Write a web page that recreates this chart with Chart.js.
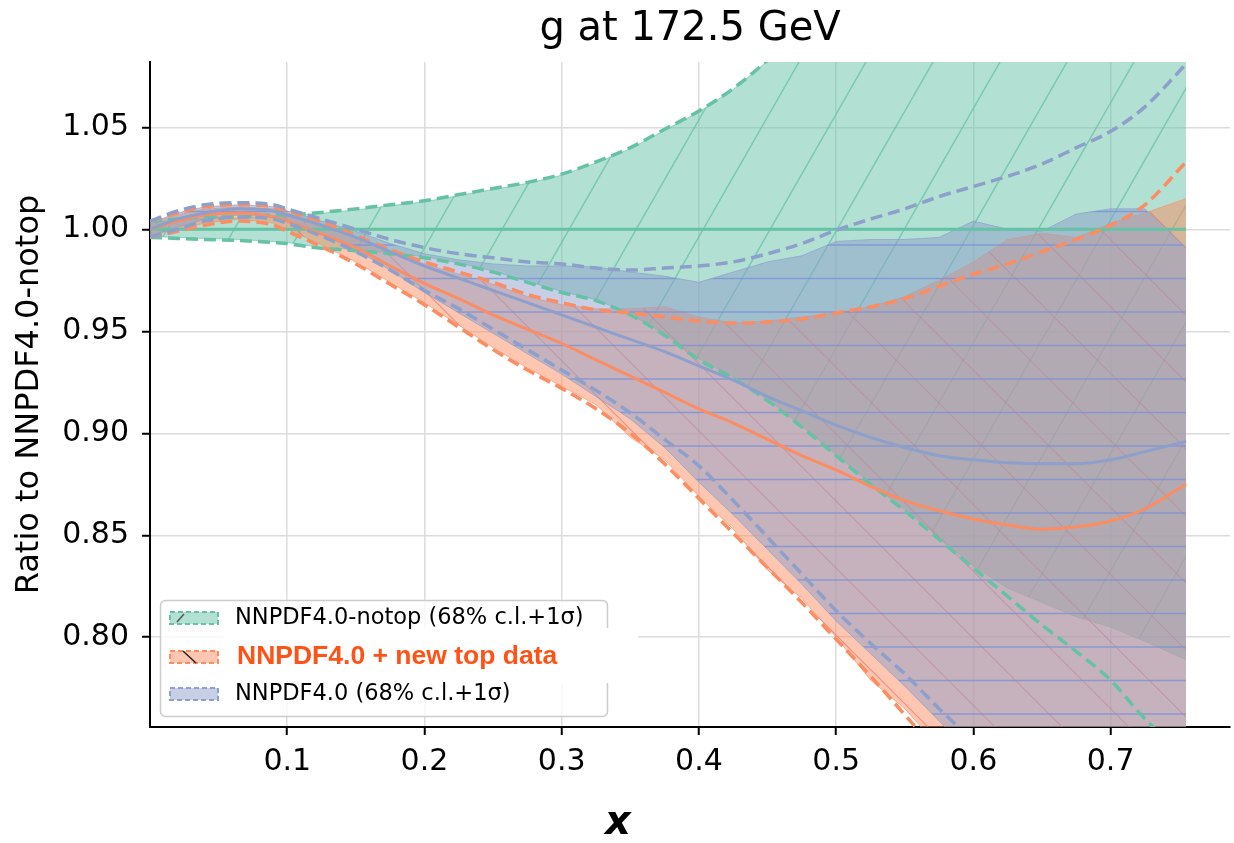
<!DOCTYPE html>
<html>
<head>
<meta charset="utf-8">
<script src="https://cdn.jsdelivr.net/npm/chart.js@4.4.1/dist/chart.umd.min.js"></script>
<style>
  body { margin: 0; background: #fff; }
  canvas { display: block; }
</style>
</head>
<body>
<canvas id="gluonChart" width="1234" height="843"></canvas>
<script>
// x grid shared by every curve
const xGrid = [0, 0.02, 0.04, 0.065, 0.09, 0.1, 0.12, 0.15,
  0.175, 0.2, 0.225, 0.25, 0.275, 0.3, 0.325, 0.35,
  0.375, 0.4, 0.425, 0.45, 0.475, 0.5, 0.525, 0.55,
  0.575, 0.6, 0.625, 0.65, 0.675, 0.7, 0.725, 0.755];

const xTicks = [0.1, 0.2, 0.3, 0.4, 0.5, 0.6, 0.7];
const yTicks = [0.80, 0.85, 0.90, 0.95, 1.00, 1.05];

// NNPDF4.0-notop (green)
const notopCentral = [1.000, 1.000, 1.000, 1.000, 1.000, 1.000, 1.000, 1.000,
  1.000, 1.000, 1.000, 1.000, 1.000, 1.000, 1.000, 1.000,
  1.000, 1.000, 1.000, 1.000, 1.000, 1.000, 1.000, 1.000,
  1.000, 1.000, 1.000, 1.000, 1.000, 1.000, 1.000, 1.000];
const notopUpper = [1.004, 1.005, 1.006, 1.006, 1.007, 1.007, 1.008, 1.010,
  1.012, 1.014, 1.017, 1.020, 1.023, 1.027, 1.033, 1.040,
  1.049, 1.058, 1.069, 1.083, 1.100, 1.120, 1.140, 1.160,
  1.180, 1.200, 1.220, 1.240, 1.260, 1.280, 1.300, 1.320];
const notopLower = [0.996, 0.9955, 0.995, 0.9945, 0.9935, 0.993, 0.991, 0.9895,
  0.988, 0.986, 0.983, 0.979, 0.974, 0.969, 0.965, 0.958,
  0.948, 0.936, 0.927, 0.916, 0.903, 0.889, 0.875, 0.862,
  0.848, 0.834, 0.820, 0.806, 0.793, 0.779, 0.760, 0.742];
const notopBandHi = [1.0035, 1.0045, 1.0055, 1.0055, 1.0065, 1.0065, 1.0075, 1.0095,
  1.0115, 1.0135, 1.0165, 1.0195, 1.0225, 1.0265, 1.0325, 1.0395,
  1.0485, 1.0575, 1.0685, 1.0825, 1.0995, 1.1195, 1.1395, 1.1595,
  1.1795, 1.1995, 1.2195, 1.2395, 1.2595, 1.2795, 1.2995, 1.3195];
const notopBandLo = [0.9965, 0.996, 0.9955, 0.995, 0.994, 0.9935, 0.9915, 0.990,
  0.9885, 0.9865, 0.9835, 0.9795, 0.9745, 0.9695, 0.9655, 0.9585,
  0.9485, 0.9365, 0.9275, 0.9165, 0.9035, 0.8895, 0.8755, 0.8625,
  0.849, 0.835, 0.824, 0.817, 0.810, 0.805, 0.798, 0.789];

// NNPDF4.0 + new top data (orange)
const topCentral = [1.000, 1.004, 1.007, 1.008, 1.006, 1.004, 0.999, 0.991,
  0.982, 0.9735, 0.966, 0.958, 0.951, 0.944, 0.936, 0.928,
  0.920, 0.912, 0.905, 0.897, 0.889, 0.882, 0.874, 0.867,
  0.862, 0.858, 0.855, 0.853, 0.854, 0.857, 0.863, 0.875];
const topUpper = [1.004, 1.008, 1.011, 1.012, 1.011, 1.009, 1.005, 0.997,
  0.990, 0.984, 0.979, 0.974, 0.968, 0.964, 0.9605, 0.959,
  0.957, 0.955, 0.954, 0.9545, 0.956, 0.959, 0.962, 0.966,
  0.972, 0.978, 0.983, 0.989, 0.995, 1.002, 1.012, 1.033];
const topLower = [0.996, 0.999, 1.002, 1.004, 1.002, 0.999, 0.993, 0.983,
  0.973, 0.963, 0.952, 0.941, 0.931, 0.922, 0.912, 0.900,
  0.885, 0.868, 0.851, 0.834, 0.817, 0.799, 0.781, 0.762,
  0.743, 0.724, 0.705, 0.686, 0.667, 0.648, 0.629, 0.606];
const topBandHi = [1.003, 1.007, 1.010, 1.011, 1.010, 1.008, 1.004, 0.996,
  0.989, 0.983, 0.978, 0.973, 0.967, 0.963, 0.961, 0.961,
  0.962, 0.957, 0.954, 0.955, 0.957, 0.959, 0.962, 0.967,
  0.975, 0.984, 0.995, 0.998, 0.996, 1.003, 1.008, 1.015];
const topBandLo = [0.997, 1.000, 1.003, 1.005, 1.003, 1.000, 0.994, 0.984,
  0.974, 0.964, 0.953, 0.942, 0.932, 0.923, 0.914, 0.898,
  0.887, 0.869, 0.853, 0.833, 0.819, 0.800, 0.779, 0.765,
  0.746, 0.727, 0.708, 0.689, 0.670, 0.651, 0.632, 0.609];

// NNPDF4.0 (blue)
const nnCentral = [1.000, 1.005, 1.008, 1.010, 1.009, 1.007, 1.003, 0.996,
  0.989, 0.982, 0.976, 0.970, 0.964, 0.958, 0.952, 0.946,
  0.940, 0.933, 0.926, 0.918, 0.911, 0.904, 0.898, 0.893,
  0.889, 0.887, 0.8855, 0.885, 0.885, 0.887, 0.891, 0.896];
const nnUpper = [1.004, 1.009, 1.012, 1.013, 1.012, 1.010, 1.006, 1.000,
  0.995, 0.991, 0.988, 0.986, 0.984, 0.983, 0.981, 0.980,
  0.981, 0.982, 0.984, 0.988, 0.993, 0.9995, 1.005, 1.010,
  1.016, 1.021, 1.026, 1.032, 1.040, 1.048, 1.060, 1.081];
const nnLower = [0.996, 1.000, 1.004, 1.006, 1.005, 1.003, 0.998, 0.989,
  0.980, 0.970, 0.961, 0.951, 0.941, 0.931, 0.921, 0.910,
  0.897, 0.884, 0.867, 0.849, 0.831, 0.813, 0.797, 0.782,
  0.765, 0.749, 0.732, 0.715, 0.698, 0.681, 0.664, 0.644];
const nnBandHi = [1.003, 1.008, 1.011, 1.012, 1.011, 1.009, 1.005, 0.999,
  0.993, 0.988, 0.985, 0.983, 0.982, 0.982, 0.9815, 0.979,
  0.977, 0.974, 0.979, 0.984, 0.987, 0.994, 0.995, 0.995,
  0.996, 1.004, 1.000, 0.999, 1.0075, 1.010, 1.010, 0.991];
const nnBandLo = [0.997, 1.001, 1.005, 1.007, 1.006, 1.004, 0.999, 0.990,
  0.980, 0.969, 0.959, 0.949, 0.939, 0.929, 0.918, 0.907,
  0.893, 0.876, 0.860, 0.843, 0.826, 0.808, 0.792, 0.776,
  0.759, 0.742, 0.725, 0.708, 0.691, 0.674, 0.657, 0.637];

const legendLabels = ['NNPDF4.0-notop (68% c.l.+1σ)', 'NNPDF4.0 + new top data', 'NNPDF4.0 (68% c.l.+1σ)'];

const GREEN = '#66c2a5', ORANGE = '#fc8d62', BLUE = '#8da0cb';

const pts = arr => xGrid.map((x, i) => ({ x: x, y: arr[i] }));

// hatched fills, like matplotlib hatches
function makeHatch(w, h, fill, stroke, lw, lines) {
  const c = document.createElement('canvas');
  c.width = w; c.height = h;
  const g = c.getContext('2d');
  g.fillStyle = fill;
  g.fillRect(0, 0, w, h);
  g.strokeStyle = stroke;
  g.lineWidth = lw;
  g.beginPath();
  lines(g, w, h);
  g.stroke();
  return g.createPattern(c, 'repeat');
}

const greenHatch = makeHatch(67, 117, 'rgba(102,194,165,0.5)', 'rgba(102,194,165,0.75)', 1.4, (g, w, h) => {
  for (let k = -2; k <= 2; k++) {
    const c0 = 0.455 + k;
    g.moveTo(-w, (c0 + 1) * h);
    g.lineTo(2 * w, (c0 - 2) * h);
  }
});
const orangeHatch = makeHatch(67, 67, 'rgba(252,141,98,0.5)', 'rgba(235,110,100,0.6)', 1.2, (g, w, h) => {
  for (let k = -2; k <= 2; k++) {
    g.moveTo(-w, (-1 - k) * h);
    g.lineTo(2 * w, (2 - k) * h);
  }
});
const blueHatch = makeHatch(8, 134, 'rgba(141,160,203,0.5)', 'rgba(125,145,215,0.8)', 1.4, (g, w, h) => {
  [10.5, 44, 77.5, 111].forEach(y => { g.moveTo(0, y); g.lineTo(w, y); });
});

function band(hi, lo, pattern, edge, order) {
  return [
    { data: pts(hi), fill: '+1', backgroundColor: pattern, borderColor: edge, borderWidth: 1, tension: 0, order: order },
    { data: pts(lo), fill: false, borderColor: edge, borderWidth: 1, tension: 0, order: order }
  ];
}
function curve(arr, color, dashed, order) {
  return {
    data: pts(arr), fill: false, borderColor: color, borderWidth: dashed ? 3.5 : 3,
    borderDash: dashed ? [12, 6] : [], cubicInterpolationMode: 'monotone', order: order
  };
}

const datasets = [
  ...band(notopBandHi, notopBandLo, greenHatch, 'rgba(102,194,165,0.6)', 30),
  ...band(topBandHi, topBandLo, orangeHatch, 'rgba(252,141,98,0.6)', 20),
  ...band(nnBandHi, nnBandLo, blueHatch, 'rgba(141,160,203,0.7)', 10),
  curve(notopCentral, GREEN, false, 5),
  curve(notopUpper, GREEN, true, 5),
  curve(notopLower, GREEN, true, 5),
  curve(topCentral, ORANGE, false, 4),
  curve(topUpper, ORANGE, true, 4),
  curve(topLower, ORANGE, true, 4),
  curve(nnCentral, BLUE, false, 3),
  curve(nnUpper, BLUE, true, 3),
  curve(nnLower, BLUE, true, 3)
];

// legend box and the x label, drawn on top
const overlay = {
  id: 'overlay',
  afterDraw(chart) {
    const ctx = chart.ctx;
    ctx.save();
    ctx.beginPath();
    ctx.roundRect(160.5, 600.5, 447, 116, 5);
    ctx.fillStyle = 'rgba(255,255,255,0.8)';
    ctx.fill();
    ctx.strokeStyle = '#cccccc';
    ctx.lineWidth = 1.5;
    ctx.stroke();

    // pasted white label behind the middle entry
    ctx.fillStyle = '#ffffff';
    ctx.fillRect(225, 628, 413, 55);

    const rowsY = [618, 657, 694];
    const cols = [GREEN, ORANGE, BLUE];
    const fills = ['rgba(102,194,165,0.5)', 'rgba(252,141,98,0.5)', 'rgba(141,160,203,0.5)'];
    rowsY.forEach((y, i) => {
      ctx.fillStyle = fills[i];
      ctx.fillRect(170, y - 6, 48, 12);
      ctx.setLineDash([5, 3]);
      ctx.strokeStyle = cols[i];
      ctx.lineWidth = 2;
      ctx.strokeRect(170, y - 6, 48, 12);
      ctx.setLineDash([]);
    });
    ctx.strokeStyle = '#555';
    ctx.lineWidth = 1.5;
    ctx.beginPath();
    ctx.moveTo(177, 622); ctx.lineTo(184, 614);
    ctx.stroke();
    ctx.strokeStyle = '#222';
    ctx.beginPath();
    ctx.moveTo(183, 651); ctx.lineTo(196, 663);
    ctx.stroke();

    ctx.textBaseline = 'middle';
    ctx.textAlign = 'left';
    ctx.fillStyle = '#000';
    ctx.font = '22.5px "DejaVu Sans"';
    ctx.fillText(legendLabels[0], 235, rowsY[0]);
    ctx.fillText(legendLabels[2], 235, rowsY[2]);
    ctx.fillStyle = '#ff5216';
    ctx.font = 'bold 26.5px "Liberation Sans"';
    ctx.fillText(legendLabels[1], 237, rowsY[1]);

    ctx.fillStyle = '#000';
    ctx.textAlign = 'center';
    ctx.font = 'italic bold 40px "DejaVu Sans"';
    ctx.fillText('x', 618, 824);
    ctx.restore();
  }
};

Chart.defaults.font.family = '"DejaVu Sans"';

new Chart(document.getElementById('gluonChart'), {
  type: 'line',
  data: { datasets: datasets },
  options: {
    responsive: false,
    animation: false,
    devicePixelRatio: 1,
    layout: { padding: { right: 4 } },
    elements: { point: { radius: 0 } },
    plugins: {
      legend: { display: false },
      tooltip: { enabled: false },
      title: {
        display: true,
        fullSize: false,
        text: 'g at 172.5 GeV',
        color: '#000',
        font: { size: 40, weight: 'normal' },
        padding: { top: 6, bottom: 8 }
      }
    },
    scales: {
      x: {
        type: 'linear',
        min: 0,
        max: 0.787,
        afterBuildTicks: s => { s.ticks = xTicks.map(v => ({ value: v })); },
        afterFit: s => { s.height = 116; },
        ticks: { callback: v => v.toFixed(1), color: '#000', font: { size: 30 }, padding: 9, autoSkip: false, maxRotation: 0 },
        grid: { color: '#dcdcdc', lineWidth: 1.5, tickColor: '#000', tickLength: 8, tickWidth: 2 },
        border: { color: '#000', width: 2 }
      },
      y: {
        min: 0.756,
        max: 1.082,
        afterBuildTicks: s => { s.ticks = yTicks.map(v => ({ value: v })); },
        afterFit: s => { s.width = 150; },
        ticks: { callback: v => v.toFixed(2), color: '#000', font: { size: 30 }, padding: 13 },
        title: {
          display: true,
          text: 'Ratio to NNPDF4.0-notop',
          color: '#000',
          font: { size: 32 },
          padding: { top: 10, bottom: 0 }
        },
        grid: { color: '#dcdcdc', lineWidth: 1.5, tickColor: '#000', tickLength: 8, tickWidth: 2 },
        border: { color: '#000', width: 2 }
      }
    }
  },
  plugins: [overlay]
});
</script>
</body>
</html>
